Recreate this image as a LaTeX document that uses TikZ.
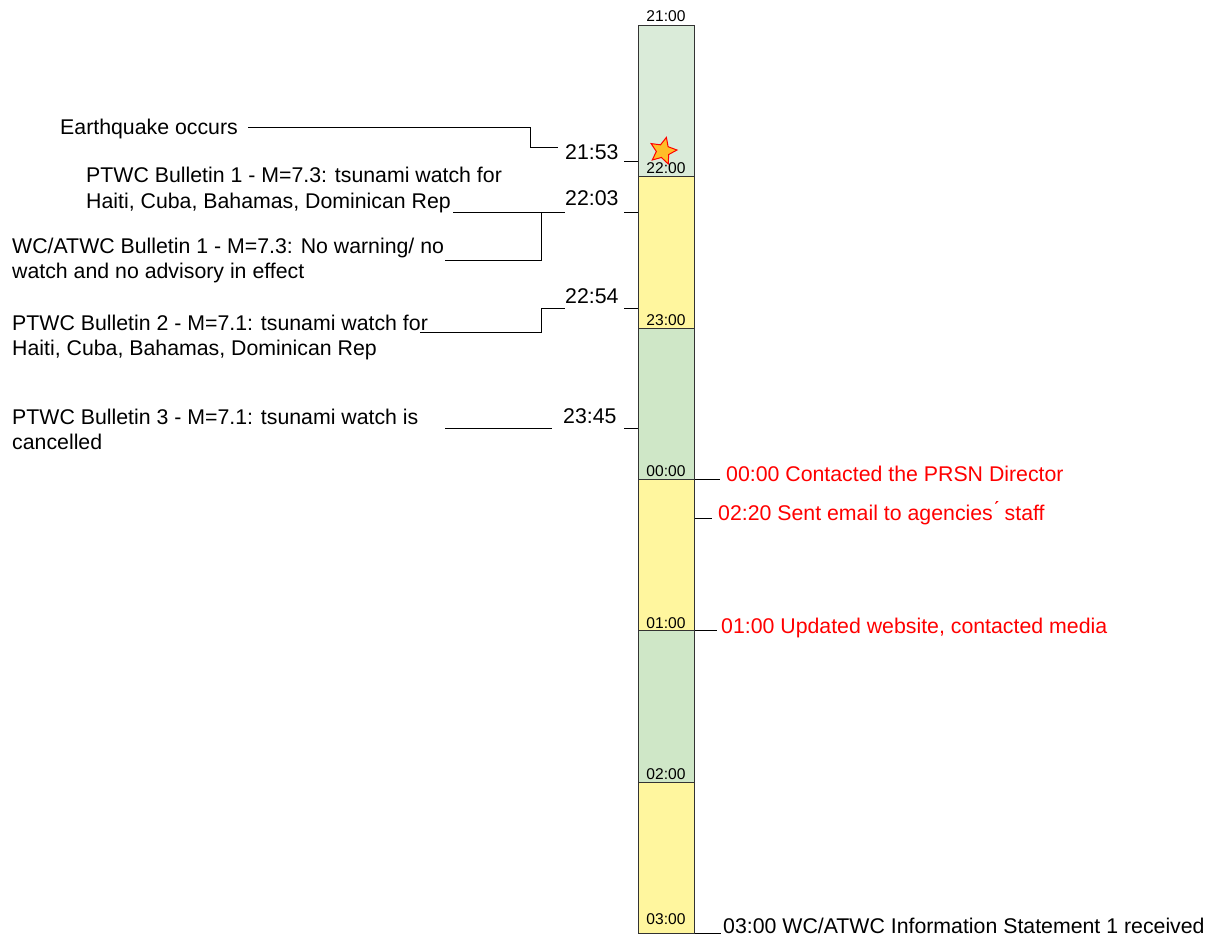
\documentclass[tikz,border=0pt]{standalone}
\usepackage{fontspec}
\setmainfont{Liberation Sans}
\usetikzlibrary{shapes.geometric}
\definecolor{glight}{RGB}{218,235,217}
\definecolor{gmid}{RGB}{207,231,199}
\definecolor{ylw}{RGB}{255,246,158}
\definecolor{evtred}{RGB}{255,0,0}
\definecolor{starfill}{RGB}{255,190,40}
\newcommand{\twolines}[2]{\vtop{\hbox{#1}\hbox{#2}}}
\begin{document}
\begin{tikzpicture}[x=1pt,y=-1pt,
  big/.style={inner sep=0pt, anchor=base west, font=\fontsize{21.3}{25}\selectfont},
  small/.style={inner sep=0pt, anchor=base, font=\fontsize{15.6}{18}\selectfont},
  hourbox/.style={draw=black!80, line width=1pt, anchor=north west, minimum width=56pt, minimum height=151.33pt, inner sep=0pt},
  conn/.style={draw=black, line width=1pt},
  evt/.style={big, text=evtred}]
\useasboundingbox (0,0) rectangle (1218,936);

% column
\node[hourbox, fill=glight] (h21) at (638,25) {};
\node[hourbox, fill=ylw]    (h22) at (638,176.33) {};
\node[hourbox, fill=gmid]   (h23) at (638,327.67) {};
\node[hourbox, fill=ylw]    (h00) at (638,479) {};
\node[hourbox, fill=gmid]   (h01) at (638,630.33) {};
\node[hourbox, fill=ylw]    (h02) at (638,781.67) {};

\node[small] (l21) at (666,21.5) {21:00};
\node[small] (l22) at (666,174) {22:00};
\node[small] (l23) at (666,325) {23:00};
\node[small] (l00) at (666,476.5) {00:00};
\node[small] (l01) at (666,628) {01:00};
\node[small] (l02) at (666,779) {02:00};
\node[small] (l03) at (666,924) {03:00};

\node[star, star points=5, star point ratio=2.1, minimum size=28pt, inner sep=0pt,
      fill=starfill, draw=evtred, line width=1pt, rotate=-14] (quake) at (663,151) {};

% left labels
\node[big] (eq) at (60,135) {Earthquake occurs};
\node[big] (b1) at (86,183) {\twolines{PTWC Bulletin 1 - M=7.3: tsunami watch for}{Haiti, Cuba, Bahamas, Dominican Rep}};
\node[big] (wc) at (12,253) {\twolines{WC/ATWC Bulletin 1 - M=7.3: No warning/ no}{watch and no advisory in effect}};
\node[big] (b2) at (12,330) {\twolines{PTWC Bulletin 2 - M=7.1: tsunami watch for}{Haiti, Cuba, Bahamas, Dominican Rep}};
\node[big] (b3) at (12,424) {\twolines{PTWC Bulletin 3 - M=7.1: tsunami watch is}{cancelled}};

% times
\node[big] (t2153) at (565,160) {21:53};
\node[big] (t2203) at (565,205.5) {22:03};
\node[big] (t2254) at (565,303) {22:54};
\node[big] (t2345) at (563,423.5) {23:45};

% right labels
\node[evt] (r0000) at (726,481) {00:00 Contacted the PRSN Director};
\node[evt] (r0220) at (718,520) {02:20 Sent email to agencies\'{} staff};
\node[evt] (r0100) at (721,633) {01:00 Updated website, contacted media};
\node[big] (r0300) at (723,933) {03:00 WC/ATWC Information Statement 1 received};

% connector end points
\coordinate (eqA) at (248,127.7);
\coordinate (eqB) at (558,147.3);
\coordinate (b1A) at (453,212.7);
\coordinate (b1B) at (565,212.7);
\coordinate (wcA) at (445,260.7);
\coordinate (wcB) at (541.7,212.7);
\coordinate (b2A) at (420,332.7);
\coordinate (b2B) at (565,308.3);
\coordinate (b3A) at (445,428.3);
\coordinate (b3B) at (551.7,428.3);

\draw[conn] (eqA) -- (530,127.7) |- (eqB);
\draw[conn] (b1A) -- (b1B);
\draw[conn] (wcA) -| (wcB);
\draw[conn] (b2A) -- (541.7,332.7) |- (b2B);
\draw[conn] (b3A) -- (b3B);

% ticks to the column
\coordinate (k2153) at (624,162);
\coordinate (k2203) at (624,212.7);
\coordinate (k2254) at (624,308.3);
\coordinate (k2345) at (624,428.3);
\draw[conn] (k2153) -- (k2153 -| h21.west);
\draw[conn] (k2203) -- (k2203 -| h22.west);
\draw[conn] (k2254) -- (k2254 -| h22.west);
\draw[conn] (k2345) -- (k2345 -| h23.west);

% right side ticks
\coordinate (e0000) at (720,479);
\coordinate (e0220) at (711.7,518.3);
\coordinate (e0100) at (717,630.33);
\coordinate (e0300) at (721,933);
\draw[conn] (e0000 -| h00.east) -- (e0000);
\draw[conn] (e0220 -| h00.east) -- (e0220);
\draw[conn] (e0100 -| h01.east) -- (e0100);
\draw[conn] (e0300 -| h02.east) -- (e0300);
\end{tikzpicture}
\end{document}
